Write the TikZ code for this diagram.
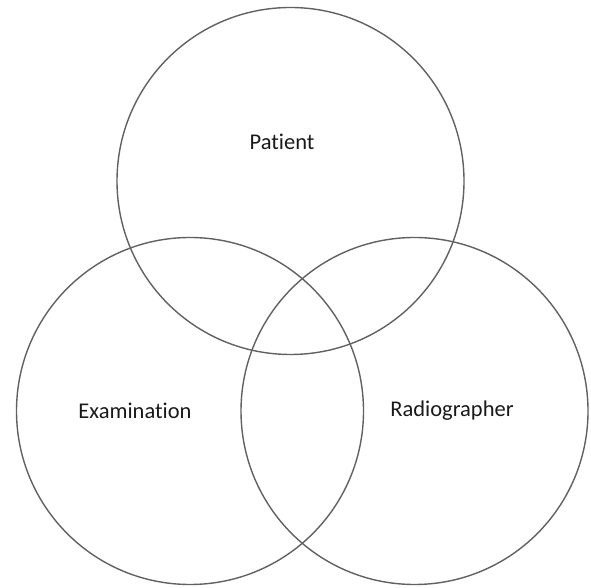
\documentclass[tikz,border=0pt]{standalone}
\usepackage{fontspec}
\setmainfont{Carlito}[Ligatures=NoCommon]
\usetikzlibrary{positioning}

\begin{document}
\begin{tikzpicture}[x=1pt, y=1pt,
set/.style={draw=black!62, line width=1.4pt, circle, minimum size=347pt, inner sep=0pt},
setlabel/.style={font=\fontsize{22.5}{26}\selectfont, text=black!90}]
    \useasboundingbox (0,0) rectangle (591,588);
    \node[set] (patient) at (290.5,407) {};
    \node[set] (exam) at (190,177) {};
    \node[set] (radio) at (414.5,177) {};

    \node[setlabel] (patientlabel) at (282,446) {Patient};
    \node[setlabel] (examlabel) at (135,177) {Examination};
    \node[setlabel] (radiolabel) at (452,177) {Radiographer};
\end{tikzpicture}
\end{document}
